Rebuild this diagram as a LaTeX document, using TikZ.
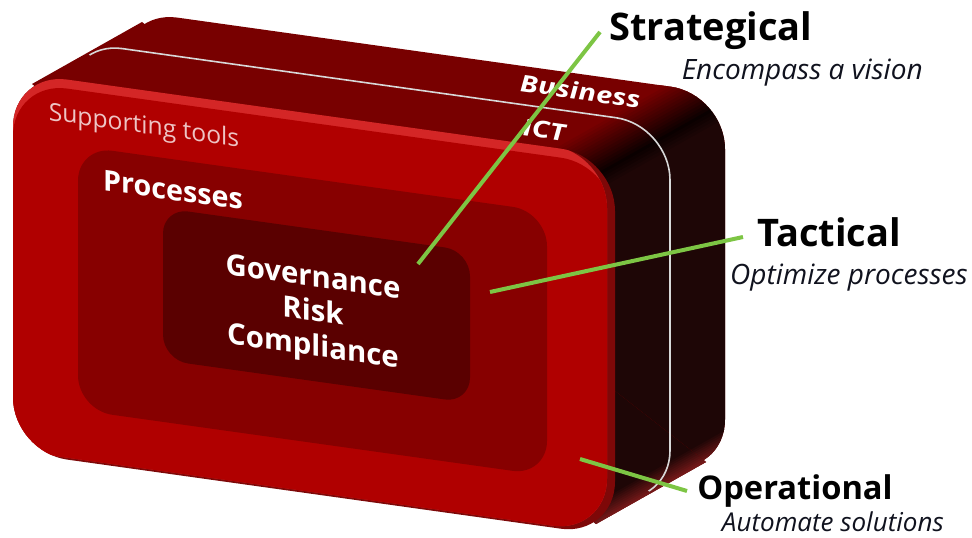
\documentclass[tikz,border=0pt]{standalone}
\usepackage{fontspec}
\setmainfont{Open Sans}
\definecolor{frontred}{HTML}{B00000}
\definecolor{bevelred}{HTML}{D42626}
\definecolor{rimred}{HTML}{7E0808}
\definecolor{topred}{HTML}{780000}
\definecolor{blk}{HTML}{0A0000}
\definecolor{sidedark}{HTML}{1E0606}
\definecolor{lowred}{HTML}{7A1A1A}
\definecolor{procred}{HTML}{870000}
\definecolor{grcred}{HTML}{5A0000}
\definecolor{seamgray}{HTML}{D8D8D8}
\definecolor{lgreen}{HTML}{7DC544}
\definecolor{subtxt}{HTML}{10121E}
\definecolor{toolstxt}{HTML}{EEC4C4}
% rounded parallelogram: left, right, top(at left), height, radius
\newcommand\rparpath[5]{[rounded corners=#5] (#1,{#3+#4/2}) -- (#1,#3) -- (#2,{#3+0.14*(#2-#1)}) -- (#2,{#3+#4+0.14*(#2-#1)}) -- (#1,{#3+#4}) -- cycle}
% strip across the gradient axis between s=#1 and s=#2
\newcommand\gstrip[3]{%
  \pgfmathsetmacro\sAx{599+#1*0.491-700*0.871}%
  \pgfmathsetmacro\sAy{172+#1*0.871+700*0.491}%
  \pgfmathsetmacro\sBx{599+#1*0.491+700*0.871}%
  \pgfmathsetmacro\sBy{172+#1*0.871-700*0.491}%
  \pgfmathsetmacro\sCx{599+#2*0.491+700*0.871}%
  \pgfmathsetmacro\sCy{172+#2*0.871-700*0.491}%
  \pgfmathsetmacro\sDx{599+#2*0.491-700*0.871}%
  \pgfmathsetmacro\sDy{172+#2*0.871+700*0.491}%
  \fill[#3] (\sAx,\sAy) -- (\sBx,\sBy) -- (\sCx,\sCy) -- (\sDx,\sDy) -- cycle;}
\newcommand\bodystrips{%
  \fill[topred] (-200,-200) rectangle (1200,800);
  \foreach \k in {0,...,14}{%
    \pgfmathsetmacro\sa{-45+3*\k}\pgfmathsetmacro\sb{\sa+3.6}%
    \pgfmathtruncatemacro\pc{\k*100/15}%
    \gstrip{\sa}{\sb}{blk!\pc!topred}}%
  \foreach \k in {0,...,4}{%
    \pgfmathsetmacro\sa{3*\k}\pgfmathsetmacro\sb{\sa+3.6}%
    \pgfmathtruncatemacro\pc{\k*100/5}%
    \gstrip{\sa}{\sb}{sidedark!\pc!blk}}%
  \gstrip{15}{286}{sidedark}%
  \foreach \k in {0,...,9}{%
    \pgfmathsetmacro\sa{285+2*\k}\pgfmathsetmacro\sb{\sa+2.6}%
    \pgfmathtruncatemacro\pc{\k*10}%
    \gstrip{\sa}{\sb}{lowred!\pc!sidedark}}%
  \gstrip{305}{900}{lowred}}
\begin{document}
\begin{tikzpicture}[x=0.75pt,y=-0.75pt,
  lbl/.style={text=black, inner sep=0pt},
  subl/.style={text=subtxt, inner sep=0pt},
  onbox/.style={text=white, inner sep=0pt, yslant=-0.14},
  gline/.style={draw=lgreen, line width=3pt}]
\useasboundingbox (0,0) rectangle (972,538);
\fill[white] (0,0) rectangle (972,538);
% ---- extruded body (back face + sweep) ----
\begin{scope}
  \clip \rparpath{123}{725}{10}{380}{41pt};
  \bodystrips
\end{scope}
\begin{scope}
  \clip (32,84) -- (142,22) -- (706,462) -- (596,524) -- cycle;
  \bodystrips
\end{scope}
% ---- seam between Business and ICT ----
\begin{scope}
  \clip (-26,-35) -- (764,581) -- (1100,581) -- (1100,-100) -- (-26,-100) -- cycle;
  \draw[seamgray, line width=1.2pt] \rparpath{68}{670}{41}{380}{41pt};
\end{scope}
% ---- front face with bevels ----
\begin{scope}
  \clip \rparpath{13}{615}{72}{380}{41pt};
  \fill[rimred] (-100,-100) rectangle (1100,700);
  \begin{scope}[shift={(-8,-3)}]
    \clip \rparpath{13}{615}{72}{380}{41pt};
    \fill[bevelred] (-100,-100) rectangle (1100,700);
    \begin{scope}[shift={(8,12)}]
      \clip \rparpath{13}{615}{72}{380}{41pt};
      \fill[frontred] (-100,-100) rectangle (1100,700);
    \end{scope}
  \end{scope}
\end{scope}
% ---- processes and GRC boxes ----
\fill[procred] \rparpath{78}{547}{146}{264}{26pt};
\fill[grcred] \rparpath{163}{470}{208}{152}{19pt};
% ---- texts on the box ----
\node[onbox, text=toolstxt, font=\fontsize{18.5}{22}\selectfont] (tools) at (144,127) {Supporting tools};
\node[onbox, font=\fontsize{21.5}{25}\selectfont\bfseries] (proc) at (173,190) {Processes};
\node[onbox, font=\fontsize{22}{26}\selectfont\bfseries, align=center] (grc) at (313,314) {Governance\\Risk\\Compliance};
\node[onbox, yscale=0.8, font=\fontsize{22}{26}\selectfont\bfseries\itshape] (bus) at (580,91) {Business};
\node[onbox, yscale=0.8, font=\fontsize{22}{26}\selectfont\bfseries\itshape] (ict) at (544,130) {ICT};
% ---- right-hand labels ----
\node[lbl, anchor=west, font=\fontsize{28.5}{32}\selectfont\bfseries] (strat) at (609,31) {Strategical};
\node[subl, anchor=east, font=\fontsize{21}{25}\selectfont\itshape] (stratsub) at (923,73) {Encompass a vision};
\node[lbl, anchor=west, font=\fontsize{28.5}{32}\selectfont\bfseries] (tact) at (757,232) {Tactical};
\node[subl, anchor=east, font=\fontsize{21}{25}\selectfont\itshape] (tactsub) at (968,278) {Optimize processes};
\node[lbl, anchor=west, font=\fontsize{24.5}{28}\selectfont\bfseries] (oper) at (697,491) {Operational};
\node[subl, anchor=east, font=\fontsize{19.5}{23}\selectfont\itshape] (opersub) at (944,522) {Automate solutions};
% ---- green leader lines ----
\coordinate (sIn) at (418,264);
\coordinate (sOut) at (600,32);
\coordinate (tIn) at (490,292);
\coordinate (tOut) at (743,237);
\coordinate (oIn) at (580,459);
\coordinate (oOut) at (687,491);
\draw[gline] (sIn) -- (sOut);
\draw[gline] (tIn) -- (tOut);
\draw[gline] (oIn) -- (oOut);
\end{tikzpicture}
\end{document}
